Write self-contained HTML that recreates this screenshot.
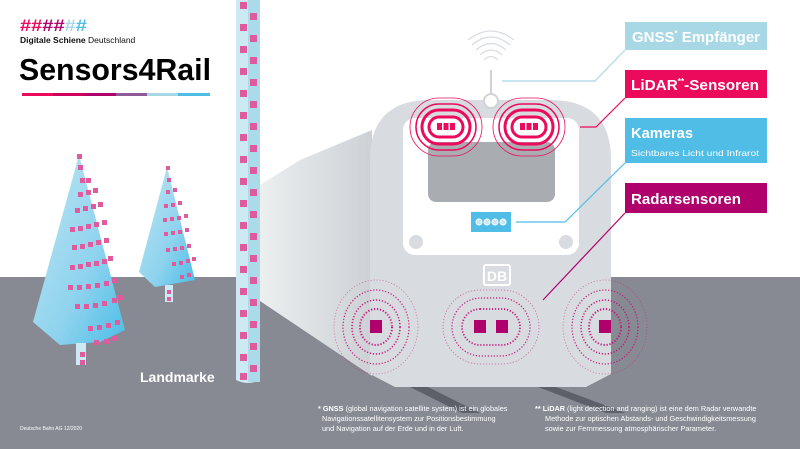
<!DOCTYPE html>
<html><head><meta charset="utf-8"><style>
html,body{margin:0;padding:0;background:#fff;overflow:hidden}
svg{display:block}
text{font-family:"Liberation Sans",sans-serif}
</style></head><body>
<svg width="800" height="449" viewBox="0 0 800 449" xmlns="http://www.w3.org/2000/svg">
<defs>
<linearGradient id="side" x1="0" x2="1" y1="0" y2="0"><stop offset="0" stop-color="#f3f5f6"/><stop offset="1" stop-color="#cdd1d5"/></linearGradient>
<linearGradient id="tree" x1="0" x2="1" y1="0" y2="1"><stop offset="0" stop-color="#bfe6f3"/><stop offset="0.6" stop-color="#8fd3ee"/><stop offset="1" stop-color="#4bbde6"/></linearGradient>
</defs>
<rect x="0" y="0" width="800" height="449" fill="#fff"/>
<rect x="0" y="277" width="800" height="172" fill="#878a93"/>
<!-- train side -->
<polygon points="236,200 300,160 372,130 372,376 236,285" fill="url(#side)"/>
<!-- rails -->
<polygon points="410,387 428,387 480,413 462,413" fill="#5d6069"/>
<polygon points="538,387 556,387 626,413 606,413" fill="#5d6069"/>
<!-- train front -->
<path d="M370,160 Q370,100 430,100 L550,100 Q611,100 611,160 L611,374 L586,387 L395,387 L370,374 Z" fill="#d8dbdf"/>
<rect x="403" y="118" width="176" height="137" rx="12" fill="#fff"/>
<rect x="428" y="142" width="127" height="60" rx="8" fill="#a9acb1"/>
<circle cx="416" cy="242" r="7" fill="#d8dbdf"/><circle cx="566" cy="242" r="7" fill="#d8dbdf"/>
<rect x="471" y="212" width="40" height="20" fill="#4fbde6"/>
<g fill="#cbe6f3" stroke="#fff" stroke-width="1"><circle cx="479" cy="222" r="3"/><circle cx="487" cy="222" r="3"/><circle cx="495" cy="222" r="3"/><circle cx="503" cy="222" r="3"/></g>
<!-- antenna -->
<line x1="491" y1="70" x2="491" y2="96" stroke="#cfd3d7" stroke-width="2"/>
<circle cx="491" cy="101" r="7" fill="#fff" stroke="#cfd3d7" stroke-width="2"/>
<g fill="none" stroke="#d9dcdf" stroke-width="1.2">
<path d="M484,60 Q491,53 498,60"/><path d="M480,55 Q491,45 502,55"/><path d="M476,50 Q491,37 506,50"/><path d="M472,45 Q491,29 510,45"/><path d="M468,40 Q491,22 514,40"/>
</g>
<!-- lidar -->
<g fill="none" stroke="#ec0a5c">
<rect x="410" y="98" width="72" height="58" rx="29" stroke-width="0.8"/>
<rect x="416" y="104" width="60" height="46" rx="23" stroke-width="1.5"/>
<rect x="422" y="110" width="48" height="34" rx="17" stroke-width="3"/>
<rect x="429" y="117" width="34" height="20" rx="10" stroke-width="3"/>
<rect x="493" y="98" width="72" height="58" rx="29" stroke-width="0.8"/>
<rect x="499" y="104" width="60" height="46" rx="23" stroke-width="1.5"/>
<rect x="505" y="110" width="48" height="34" rx="17" stroke-width="3"/>
<rect x="512" y="117" width="34" height="20" rx="10" stroke-width="3"/>
</g>
<g fill="#ec0a5c"><rect x="437" y="123" width="5" height="7"/><rect x="443.5" y="123" width="5" height="7"/><rect x="450" y="123" width="5" height="7"/>
<rect x="520" y="123" width="5" height="7"/><rect x="526.5" y="123" width="5" height="7"/><rect x="533" y="123" width="5" height="7"/></g>
<!-- DB -->
<rect x="484" y="265" width="26" height="20" rx="2" fill="none" stroke="#fff" stroke-width="2"/>
<text x="497" y="281" font-size="14" font-weight="bold" fill="#fff" text-anchor="middle">DB</text>
<!-- radars -->
<g fill="none" stroke="#c2177a" stroke-dasharray="1.2 1.8">
<ellipse cx="376" cy="327" rx="42" ry="47" stroke-width="0.8" opacity="0.5"/>
<ellipse cx="376" cy="327" rx="33" ry="37" stroke-width="1.2"/>
<ellipse cx="376" cy="327" rx="24" ry="27" stroke-width="1.5"/>
<ellipse cx="376" cy="327" rx="16" ry="18" stroke-width="2"/>
<ellipse cx="605" cy="327" rx="42" ry="47" stroke-width="0.8" opacity="0.5"/>
<ellipse cx="605" cy="327" rx="33" ry="37" stroke-width="1.2"/>
<ellipse cx="605" cy="327" rx="24" ry="27" stroke-width="1.5"/>
<ellipse cx="605" cy="327" rx="16" ry="18" stroke-width="2"/>
<rect x="443" y="290" width="96" height="74" rx="37" stroke-width="0.8" opacity="0.6"/>
<rect x="452" y="298" width="78" height="58" rx="29" stroke-width="1.2"/>
<rect x="462" y="309" width="58" height="36" rx="18" stroke-width="1.8"/>
</g>
<g fill="#b0006c"><rect x="370" y="320" width="12" height="13"/><rect x="474" y="320" width="12" height="13"/><rect x="496" y="320" width="12" height="13"/><rect x="599" y="320" width="12" height="13"/></g>
<!-- connectors -->
<g fill="none" stroke-width="1.2">
<polyline points="502,81 595,81 625,50" stroke="#a8d8e6"/>
<polyline points="580,127 596,127 625,98" stroke="#ec0a5c"/>
<polyline points="516,222 565,222 625,163" stroke="#4fbde6"/>
<polyline points="625,213 543,300" stroke="#b0006c"/>
</g>
<!-- labels -->
<rect x="625" y="22" width="142" height="28" fill="#a8d8e6"/>
<text x="632" y="42" font-size="15" font-weight="bold" fill="#fff" textLength="128" lengthAdjust="spacingAndGlyphs">GNSS<tspan font-size="8" dy="-6">*</tspan><tspan dy="6"> Empfänger</tspan></text>
<rect x="625" y="70" width="142" height="28" fill="#ec0a5c"/>
<text x="631" y="90" font-size="15" font-weight="bold" fill="#fff" textLength="128" lengthAdjust="spacingAndGlyphs">LiDAR<tspan font-size="8" dy="-6">**</tspan><tspan dy="6">-Sensoren</tspan></text>
<rect x="625" y="118" width="142" height="45" fill="#4fbde6"/>
<text x="631" y="138" font-size="15" font-weight="bold" fill="#fff" textLength="62" lengthAdjust="spacingAndGlyphs">Kameras</text>
<text x="631" y="156" font-size="8.5" fill="#fff" textLength="128" lengthAdjust="spacingAndGlyphs">Sichtbares Licht und Infrarot</text>
<rect x="625" y="183" width="142" height="30" fill="#b0006c"/>
<text x="631" y="204" font-size="15" font-weight="bold" fill="#fff" textLength="110" lengthAdjust="spacingAndGlyphs">Radarsensoren</text>
<!-- trees -->
<polygon points="79,155 33,322 60,345 100,342 125,330" fill="url(#tree)"/>
<rect x="76" y="343" width="10" height="22" fill="#cde9f1"/>
<polygon points="167,167 139,272 155,287 195,280" fill="url(#tree)"/>
<rect x="165" y="285" width="8" height="17" fill="#cde9f1"/>
<g fill="#e05a9e">
<rect x="77" y="154" width="5" height="5"/><rect x="78" y="165" width="5" height="5"/><rect x="80" y="178" width="5" height="5"/><rect x="86" y="178" width="5" height="5"/>
<rect x="78" y="192" width="5" height="5"/><rect x="86" y="190" width="5" height="5"/><rect x="93" y="188" width="5" height="5"/>
<rect x="75" y="208" width="5" height="5"/><rect x="83" y="206" width="5" height="5"/><rect x="91" y="204" width="5" height="5"/><rect x="98" y="202" width="5" height="5"/>
<rect x="70" y="227" width="5" height="5"/><rect x="78" y="226" width="5" height="5"/><rect x="86" y="224" width="5" height="5"/><rect x="94" y="222" width="5" height="5"/><rect x="102" y="220" width="5" height="5"/>
<rect x="72" y="245" width="5" height="5"/><rect x="80" y="244" width="5" height="5"/><rect x="88" y="242" width="5" height="5"/><rect x="96" y="240" width="5" height="5"/><rect x="104" y="238" width="5" height="5"/>
<rect x="70" y="265" width="5" height="5"/><rect x="78" y="264" width="5" height="5"/><rect x="86" y="262" width="5" height="5"/><rect x="94" y="261" width="5" height="5"/><rect x="102" y="259" width="5" height="5"/><rect x="108" y="256" width="5" height="5"/>
<rect x="68" y="285" width="5" height="5"/><rect x="77" y="285" width="5" height="5"/><rect x="86" y="284" width="5" height="5"/><rect x="95" y="283" width="5" height="5"/><rect x="104" y="281" width="5" height="5"/><rect x="112" y="278" width="5" height="5"/>
<rect x="75" y="304" width="5" height="5"/><rect x="84" y="304" width="5" height="5"/><rect x="93" y="303" width="5" height="5"/><rect x="102" y="301" width="5" height="5"/><rect x="112" y="298" width="5" height="5"/><rect x="118" y="295" width="5" height="5"/>
<rect x="88" y="326" width="5" height="5"/><rect x="97" y="325" width="5" height="5"/><rect x="106" y="323" width="5" height="5"/><rect x="115" y="320" width="5" height="5"/>
<rect x="94" y="340" width="5" height="5"/><rect x="104" y="339" width="5" height="5"/><rect x="112" y="336" width="5" height="5"/>
<rect x="80" y="352" width="5" height="5"/><rect x="80" y="360" width="5" height="5"/>
<rect x="166" y="166" width="4" height="4"/><rect x="167" y="178" width="4" height="4"/><rect x="166" y="190" width="4" height="4"/><rect x="173" y="188" width="4" height="4"/>
<rect x="164" y="204" width="4" height="4"/><rect x="171" y="203" width="4" height="4"/><rect x="178" y="201" width="4" height="4"/>
<rect x="163" y="218" width="4" height="4"/><rect x="170" y="217" width="4" height="4"/><rect x="177" y="216" width="4" height="4"/><rect x="184" y="214" width="4" height="4"/>
<rect x="164" y="232" width="4" height="4"/><rect x="171" y="231" width="4" height="4"/><rect x="178" y="230" width="4" height="4"/><rect x="185" y="228" width="4" height="4"/>
<rect x="166" y="248" width="4" height="4"/><rect x="173" y="247" width="4" height="4"/><rect x="180" y="246" width="4" height="4"/><rect x="187" y="244" width="4" height="4"/>
<rect x="172" y="262" width="4" height="4"/><rect x="179" y="261" width="4" height="4"/><rect x="186" y="259" width="4" height="4"/><rect x="192" y="257" width="4" height="4"/>
<rect x="180" y="275" width="4" height="4"/><rect x="187" y="273" width="4" height="4"/>
<rect x="167" y="290" width="4" height="4"/><rect x="167" y="297" width="4" height="4"/>
</g>
<!-- pole -->
<path d="M236,0 L260,0 L260,380 Q248,386 236,380 Z" fill="#cde9f1"/>
<rect x="248" y="0" width="12" height="382" fill="#a9dbe8"/>
<g fill="#e05a9e">
<rect x="240" y="2" width="7" height="7"/><rect x="240" y="24" width="7" height="7"/><rect x="240" y="46" width="7" height="7"/><rect x="240" y="68" width="7" height="7"/><rect x="240" y="90" width="7" height="7"/><rect x="240" y="112" width="7" height="7"/><rect x="240" y="134" width="7" height="7"/><rect x="240" y="156" width="7" height="7"/><rect x="240" y="178" width="7" height="7"/><rect x="240" y="200" width="7" height="7"/><rect x="240" y="222" width="7" height="7"/><rect x="240" y="244" width="7" height="7"/><rect x="240" y="266" width="7" height="7"/><rect x="240" y="288" width="7" height="7"/><rect x="240" y="310" width="7" height="7"/><rect x="240" y="332" width="7" height="7"/><rect x="240" y="354" width="7" height="7"/><rect x="240" y="373" width="7" height="7"/>
<rect x="250" y="13" width="7" height="7"/><rect x="250" y="35" width="7" height="7"/><rect x="250" y="57" width="7" height="7"/><rect x="250" y="79" width="7" height="7"/><rect x="250" y="101" width="7" height="7"/><rect x="250" y="123" width="7" height="7"/><rect x="250" y="145" width="7" height="7"/><rect x="250" y="167" width="7" height="7"/><rect x="250" y="189" width="7" height="7"/><rect x="250" y="211" width="7" height="7"/><rect x="250" y="233" width="7" height="7"/><rect x="250" y="255" width="7" height="7"/><rect x="250" y="277" width="7" height="7"/><rect x="250" y="299" width="7" height="7"/><rect x="250" y="321" width="7" height="7"/><rect x="250" y="343" width="7" height="7"/><rect x="250" y="365" width="7" height="7"/>
</g>
<text x="140" y="382" font-size="14" font-weight="bold" fill="#fff">Landmarke</text>
<!-- logo -->
<text x="20" y="31" font-size="17" font-weight="bold" textLength="67" lengthAdjust="spacingAndGlyphs"><tspan fill="#ec0a5c">##</tspan><tspan fill="#b0006c">##</tspan><tspan fill="#a8d8e6">#</tspan><tspan fill="#4fbde6">#</tspan></text>
<text x="20" y="43" font-size="8.5" fill="#111"><tspan font-weight="bold">Digitale Schiene</tspan> Deutschland</text>
<text x="19" y="80" font-size="31" font-weight="bold" fill="#000" textLength="192" lengthAdjust="spacingAndGlyphs">Sensors4Rail</text>
<rect x="22" y="93" width="31" height="3" fill="#ec0a5c"/><rect x="53" y="93" width="32" height="3" fill="#d0005f"/><rect x="85" y="93" width="31" height="3" fill="#b0006c"/><rect x="116" y="93" width="31" height="3" fill="#8f5a9a"/><rect x="147" y="93" width="31" height="3" fill="#a8d8e6"/><rect x="178" y="93" width="32" height="3" fill="#4fbde6"/>
<!-- footnotes -->
<g font-size="7.3" fill="#fff">
<text x="318" y="411"><tspan font-weight="bold">* GNSS</tspan> (global navigation satellite system) ist ein globales</text>
<text x="322" y="421">Navigationssatellitensystem zur Positionsbestimmung</text>
<text x="322" y="431">und Navigation auf der Erde und in der Luft.</text>
<text x="535" y="411"><tspan font-weight="bold">** LiDAR</tspan> (light detection and ranging) ist eine dem Radar verwandte</text>
<text x="545" y="421">Methode zur optischen Abstands- und Geschwindigkeitsmessung</text>
<text x="545" y="431">sowie zur Fernmessung atmosphärischer Parameter.</text>
</g>
<text x="20" y="430" font-size="5" fill="#fff">Deutsche Bahn AG 12/2020</text>
</svg>
</body></html>
